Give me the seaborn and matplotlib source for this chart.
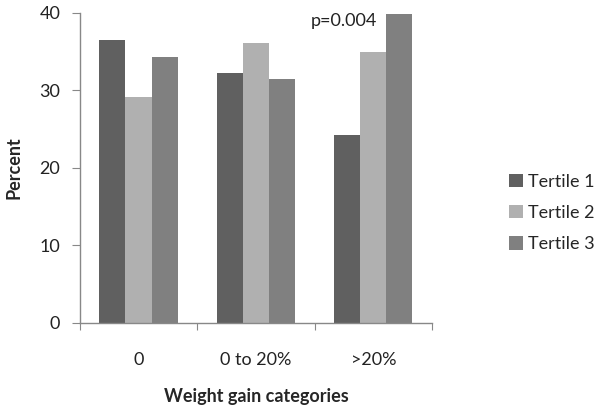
import matplotlib
matplotlib.use("Agg")
import matplotlib.pyplot as plt
import seaborn as sns
import pandas as pd

categories = ["0", "0 to 20%", ">20%"]
tertile_1 = [36.5, 32.3, 24.3]
tertile_2 = [29.2, 36.1, 35.0]
tertile_3 = [34.3, 31.5, 39.9]
series_names = ["Tertile 1", "Tertile 2", "Tertile 3"]
y_ticks = [0, 10, 20, 30, 40]

sns.set_style("white")
plt.rcParams['font.family'] = ['Lato', 'DejaVu Sans']

rows = []
for name, vals in zip(series_names, [tertile_1, tertile_2, tertile_3]):
    for cat, v in zip(categories, vals):
        rows.append({"category": cat, "series": name, "value": v})
df = pd.DataFrame(rows)

fig = plt.figure(figsize=(6, 4.13), dpi=100)
ax = fig.add_axes([0.133, 0.218, 0.587, 0.751])
sns.barplot(data=df, x="category", y="value", hue="series",
            palette=["#606060", "#b0b0b0", "#808080"], width=0.667,
            saturation=1, linewidth=0, ax=ax)

ax.set_xlim(-0.5, 2.5)
ax.set_ylim(0, 40)
ax.set_yticks(y_ticks)
ax.set_xticks([-0.5, 0.5, 1.5, 2.5])
ax.set_xticklabels([])
ax.set_xticks([0, 1, 2], minor=True)
ax.set_xticklabels(categories, minor=True)
ax.tick_params(axis="x", which="major", direction="out", length=5, color="#888888", bottom=True)
ax.tick_params(axis="x", which="minor", length=0, pad=21, labelsize=13, colors="#222222")
ax.tick_params(axis="y", direction="out", length=6, color="#888888", pad=8, labelsize=13,
               labelcolor="#222222", left=True)

for side in ["top", "right"]:
    ax.spines[side].set_visible(False)
for side in ["left", "bottom"]:
    ax.spines[side].set_color("#888888")
    ax.spines[side].set_linewidth(1)

ax.set_xlabel("Weight gain categories", fontsize=13, fontweight="bold", labelpad=14)
ax.set_ylabel("Percent", fontsize=13, fontweight="bold", labelpad=12)
ax.text(1.75, 39.0, "p=0.004", ha="center", va="center", fontsize=13, color="#222222")

ax.legend(frameon=False, loc="center left", bbox_to_anchor=(1.22, 0.355), fontsize=13,
          borderaxespad=0, borderpad=0,
          handlelength=0.75, handleheight=0.75, handletextpad=0.25, labelspacing=0.85)

fig.savefig("out.png", dpi=100)
